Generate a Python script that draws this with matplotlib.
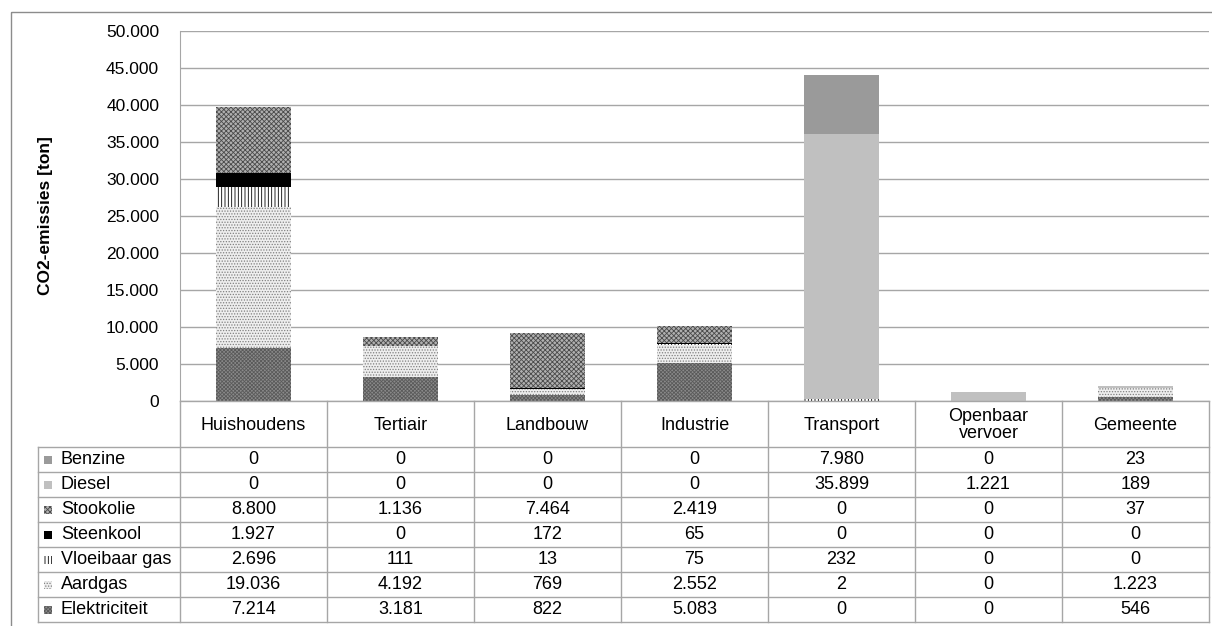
import numpy as np
import matplotlib.pyplot as plt
from matplotlib.patches import Rectangle

plt.rcParams['font.family'] = ['Liberation Sans', 'DejaVu Sans']
plt.rcParams['hatch.linewidth'] = 0.6

# Data
sectoren = ['Huishoudens', 'Tertiair', 'Landbouw', 'Industrie', 'Transport',
            'Openbaar\nvervoer', 'Gemeente']
dragers = ['Benzine', 'Diesel', 'Stookolie', 'Steenkool', 'Vloeibaar gas',
           'Aardgas', 'Elektriciteit']
benzine = [0, 0, 0, 0, 7980, 0, 23]
diesel = [0, 0, 0, 0, 35899, 1221, 189]
stookolie = [8800, 1136, 7464, 2419, 0, 0, 37]
steenkool = [1927, 0, 172, 65, 0, 0, 0]
vloeibaar_gas = [2696, 111, 13, 75, 232, 0, 0]
aardgas = [19036, 4192, 769, 2552, 2, 0, 1223]
elektriciteit = [7214, 3181, 822, 5083, 0, 0, 546]
reeksen = [benzine, diesel, stookolie, steenkool, vloeibaar_gas, aardgas, elektriciteit]

# stijl per drager (face, hatch, hatchkleur)
stijlen = {
    'Benzine': ('#9a9a9a', None, '#9a9a9a'),
    'Diesel': ('#c0c0c0', None, '#c0c0c0'),
    'Stookolie': ('#b0b0b0', 'xxxxxxx', '#4a4a4a'),
    'Steenkool': ('#000000', None, '#000000'),
    'Vloeibaar gas': ('#ffffff', '|||||', '#000000'),
    'Aardgas': ('#eeeeee', '......', '#808080'),
    'Elektriciteit': ('#8a8a8a', 'xxxxxxxxx', '#5a5a5a'),
}

def fmt(v):
    return f'{v:,}'.replace(',', '.')

W, H = 1212, 626
fig = plt.figure(figsize=(W / 100, H / 100), dpi=100)

x0, x1, y_top, y_zero = 180, 1209, 31, 401
ax = fig.add_axes([x0 / W, (H - y_zero) / H, (x1 - x0) / W, (y_zero - y_top) / H])

x = np.arange(len(sectoren))
bottom = np.zeros(len(sectoren))
for naam, waarden in zip(dragers[::-1], reeksen[::-1]):
    face, hatch, hc = stijlen[naam]
    ax.bar(x, waarden, 0.51, bottom=bottom, color=face, hatch=hatch,
           edgecolor=hc, linewidth=0, zorder=3)
    bottom += np.array(waarden)

ax.set_xlim(-0.5, len(sectoren) - 0.5)
ax.set_ylim(0, 50000)
ax.set_yticks(np.arange(0, 50001, 5000))
ax.set_yticklabels([fmt(v) for v in range(0, 50001, 5000)], fontsize=12.5)
ax.set_xticks([])
ax.tick_params(axis='y', length=0, pad=15)
ax.grid(axis='y', color='#a6a6a6', linewidth=1, zorder=0)
for s in ['top', 'right', 'bottom']:
    ax.spines[s].set_visible(False)
ax.spines['left'].set_color('#a6a6a6')
ax.set_ylabel('CO2-emissies [ton]', fontsize=12.5, fontweight='bold', labelpad=38)

# Tabel onder de grafiek
tab = fig.add_axes([0, 0, 1, 1], zorder=5)
tab.set_xlim(0, W)
tab.set_ylim(H, 0)
tab.axis('off')
lc = '#a6a6a6'
fs = 13
t_left, head_bot, row_h = 38, 447, 25
col_w = (x1 - x0) / len(sectoren)
n = len(dragers)
t_bot = head_bot + n * row_h

tab.plot([x0, x1], [y_zero, y_zero], color=lc, lw=1)
for i in range(n + 1):
    yy = head_bot + i * row_h
    tab.plot([t_left, x1], [yy, yy], color=lc, lw=1)
tab.plot([t_left, t_left], [head_bot, t_bot], color=lc, lw=1)
for j in range(len(sectoren) + 1):
    xx = x0 + j * col_w
    tab.plot([xx, xx], [y_zero, t_bot], color=lc, lw=1)

for j, s in enumerate(sectoren):
    tab.text(x0 + (j + 0.5) * col_w, (y_zero + head_bot) / 2 + 1, s, ha='center',
             va='center', fontsize=fs, linespacing=0.95)

for i, (naam, waarden) in enumerate(zip(dragers, reeksen)):
    yc = head_bot + (i + 0.5) * row_h
    face, hatch, hc = stijlen[naam]
    tab.add_patch(Rectangle((44, yc - 4), 8, 8, facecolor=face, hatch=hatch,
                            edgecolor=hc, linewidth=0))
    tab.text(61, yc, naam, ha='left', va='center', fontsize=fs)
    for j, v in enumerate(waarden):
        tab.text(x0 + (j + 0.5) * col_w, yc, fmt(v), ha='center', va='center',
                 fontsize=fs)

# kader rond de grafiek
tab.add_patch(Rectangle((11, 12), W, H, fill=False, edgecolor='#8c8c8c', lw=1,
                        clip_on=False))

fig.savefig('out.png', dpi=100)
